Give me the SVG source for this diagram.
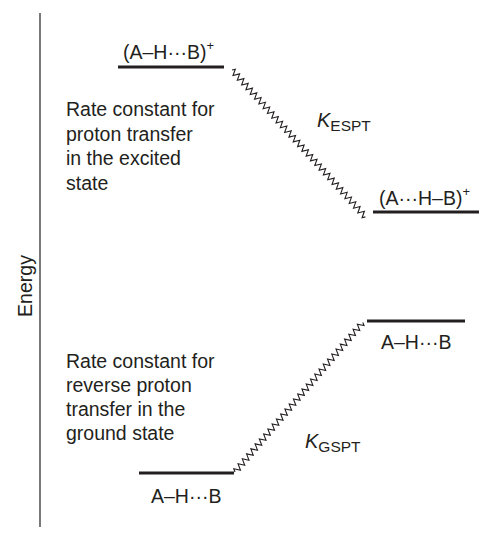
<svg xmlns="http://www.w3.org/2000/svg" width="503" height="543" viewBox="0 0 503 543">
<style>
text{font-family:"Liberation Sans",Arial,Helvetica,sans-serif;font-size:19.5px;fill:#231f20}
.lvl{stroke:#231f20;stroke-width:3;fill:none}
.wave{stroke:#231f20;stroke-width:1.1;fill:none;stroke-linejoin:miter}
.k{font-style:italic;font-size:20px}
.sub{font-style:normal;font-size:15.5px}
.sup{font-size:13px}
</style>
<rect width="503" height="543" fill="#fff"/>
<g id="axis">
<line x1="40" y1="13" x2="40" y2="527" stroke="#231f20" stroke-width="1.2"/>
<text transform="translate(32,286) rotate(-90)" text-anchor="middle">Energy</text>
</g>
<g id="connectors">
<path class="wave" transform="translate(232,70) rotate(47.75)" d="M0,0 l1.6,-3 3.2,6 3.2,-6 3.2,6 3.2,-6 3.2,6 3.2,-6 3.2,6 3.2,-6 3.2,6 3.2,-6 3.2,6 3.2,-6 3.2,6 3.2,-6 3.2,6 3.2,-6 3.2,6 3.2,-6 3.2,6 3.2,-6 3.2,6 3.2,-6 3.2,6 3.2,-6 3.2,6 3.2,-6 3.2,6 3.2,-6 3.2,6 3.2,-6 3.2,6 3.2,-6 3.2,6 3.2,-6 3.2,6 3.2,-6 3.2,6 3.2,-6 3.2,6 3.2,-6 3.2,6 3.2,-6 3.2,6 3.2,-6 3.2,6 3.2,-6 3.2,6 3.2,-6 3.2,6 3.2,-6 3.2,6 3.2,-6 3.2,6 3.2,-6 3.2,6 3.2,-6 3.2,6 3.2,-6 3.2,6 3.2,-6 3.2,6 1.6,-3"/>
<path class="wave" transform="translate(235,472) rotate(-49.5)" d="M0,0 l1.64,-3 3.28,6 3.28,-6 3.28,6 3.28,-6 3.28,6 3.28,-6 3.28,6 3.28,-6 3.28,6 3.28,-6 3.28,6 3.28,-6 3.28,6 3.28,-6 3.28,6 3.28,-6 3.28,6 3.28,-6 3.28,6 3.28,-6 3.28,6 3.28,-6 3.28,6 3.28,-6 3.28,6 3.28,-6 3.28,6 3.28,-6 3.28,6 3.28,-6 3.28,6 3.28,-6 3.28,6 3.28,-6 3.28,6 3.28,-6 3.28,6 3.28,-6 3.28,6 3.28,-6 3.28,6 3.28,-6 3.28,6 3.28,-6 3.28,6 3.28,-6 3.28,6 3.28,-6 3.28,6 3.28,-6 3.28,6 3.28,-6 3.28,6 3.28,-6 3.28,6 3.28,-6 3.28,6 3.28,-6 3.28,6 1.64,-3"/>
<text class="k" x="317" y="127">K<tspan class="sub" dy="4">ESPT</tspan></text>
<text class="k" x="305" y="448">K<tspan class="sub" dy="4">GSPT</tspan></text>
</g>
<g id="excited-AHB">
<line class="lvl" x1="118" y1="67" x2="224" y2="67"/>
<text x="123" y="59">(A–H···B)<tspan class="sup" dy="-9">+</tspan></text>
</g>
<g id="excited-AHB-transferred">
<line class="lvl" x1="373" y1="212" x2="479" y2="212"/>
<text x="379" y="205">(A···H–B)<tspan class="sup" dy="-9">+</tspan></text>
</g>
<g id="ground-AHB-upper">
<line class="lvl" x1="367" y1="321" x2="465" y2="321"/>
<text x="381" y="349">A–H···B</text>
</g>
<g id="ground-AHB-lower">
<line class="lvl" x1="139" y1="473" x2="234" y2="473"/>
<text x="151" y="503">A–H···B</text>
</g>
<g id="label-excited">
<text x="66" y="116">Rate constant for</text>
<text x="66" y="140.5">proton transfer</text>
<text x="66" y="165">in the excited</text>
<text x="66" y="189.5">state</text>
</g>
<g id="label-ground">
<text x="66" y="368">Rate constant for</text>
<text x="66" y="392">reverse proton</text>
<text x="66" y="416">transfer in the</text>
<text x="66" y="440">ground state</text>
</g>
</svg>
